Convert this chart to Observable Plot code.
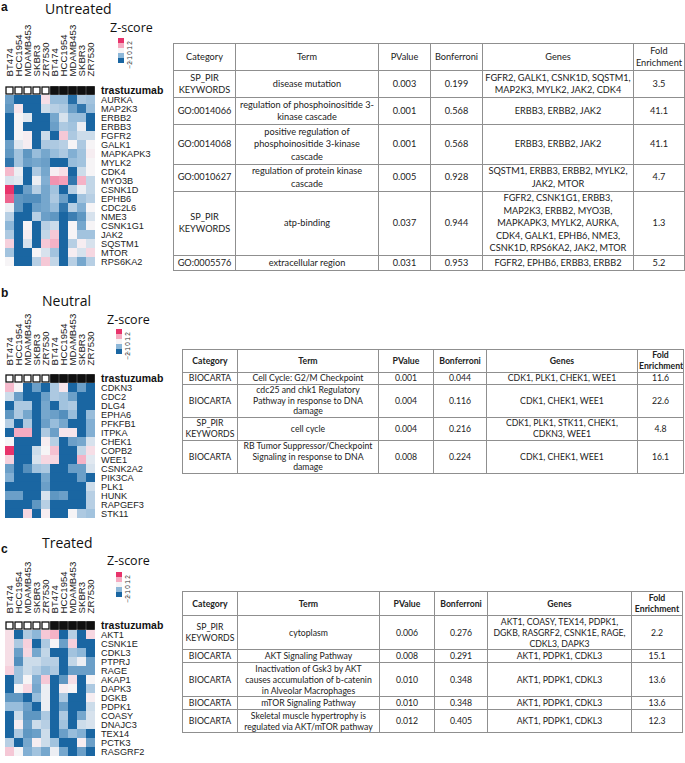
<!DOCTYPE html>
<html><head><meta charset="utf-8">
<script src="https://cdn.jsdelivr.net/npm/d3@7"></script>
<script src="https://cdn.jsdelivr.net/npm/@observablehq/plot@0.6"></script>
<style>
html,body{margin:0;padding:0;background:#fff;}
body{width:685px;height:763px;position:relative;overflow:hidden;font-family:"Liberation Sans",Arial,sans-serif;color:#111;}
.abs{position:absolute;white-space:nowrap;line-height:1;}
.plabel{font-family:"Liberation Sans",Arial,sans-serif;font-weight:bold;font-size:12px;}
.ptitle{font-family:"Open Sans",sans-serif;font-size:14px;color:#111;}
.zs{font-family:"Open Sans",sans-serif;font-size:12.5px;color:#111;}
table.enr{position:absolute;border-collapse:collapse;table-layout:fixed;font-family:Lato,"Open Sans",sans-serif;color:#222;}
table.enr td{border:1px solid #8f8f8f;text-align:center;vertical-align:middle;padding:0 1px;white-space:nowrap;overflow:hidden;}
svg{position:absolute;}
</style></head><body>
<script>
// ---------- heatmap data ----------
const samples = ["BT474","HCC1954","MDAMB453","SKBR3","ZR7530","BT474","HCC1954","MDAMB453","SKBR3","ZR7530"];
const trastuzumab = [0,0,0,0,0,1,1,1,1,1];

const genesA = ["AURKA","MAP2K3","ERBB2","ERBB3","FGFR2","GALK1","MAPKAPK3","MYLK2","CDK4","MYO3B","CSNK1D","EPHB6","CDC2L6","NME3","CSNK1G1","JAK2","SQSTM1","MTOR","RPS6KA2"];
const zA = [
  [-1.3,-2,-2,-2,0.3,-0.9,-0.9,-1.9,-0.7,-0.8],
  [-1.4,0.2,-2,-2,-0.4,-0.6,-0.7,-1.3,-1.8,-0.9],
  [-2,0,-0.2,-2,-2,-1.2,-0.3,-0.9,-0.9,-2],
  [-2,0,-2,-2,-2,-1.3,-0.7,-0.8,-0.1,-2],
  [-2,0,0.1,-2,-0.4,-2,0.6,-0.7,-0.4,-0.4],
  [-1.3,-0.2,0.1,-2,-0.7,-0.7,-0.6,0,-0.7,0],
  [-1.4,-0.8,-1.4,-0.9,-1.2,-0.9,-0.7,-1.1,-0.8,0.1],
  [-1.8,-0.8,-1.3,-1.2,-1.3,-2,-2,-0.9,-0.8,0],
  [0.8,-0.1,-2,-0.7,-1.2,0.1,0.3,-2,-0.4,0],
  [-0.3,-0.2,-2,-0.1,-1.1,1.2,1.1,-1.8,0.9,-0.5],
  [2,-2,-1.3,-0.6,-1.2,-0.8,-2,-0.6,-0.1,-0.5],
  [1.6,-1.4,-1.5,-1.5,-1.2,-0.7,-1.3,-2,-0.8,-0.6],
  [-0.1,-1.4,-2,-1.3,-1.2,-0.9,-1.8,-0.6,-1.1,0],
  [-0.6,-2,-2,-0.6,-1.3,-1.4,-2,-1.7,-1.4,-0.3],
  [-1.0,-2,0,-2,-0.6,-0.4,-2,0,-1.2,0],
  [-0.7,-2,0.1,-2,-0.5,0.6,-2,0,-0.8,-0.8],
  [0.5,-2,-0.3,-2,0.6,0.9,-2,-0.6,0.1,-0.3],
  [-0.8,-2,-2,0,-0.3,-0.8,-2,0.1,-0.3,0.4],
  [0,-2,-2,-0.6,0.6,-0.5,-2,-0.6,-1.2,-0.6]
];

const genesB = ["CDKN3","CDC2","DLG4","EPHA6","PFKFB1","ITPKA","CHEK1","COPB2","WEE1","CSNK2A2","PIK3CA","PLK1","HUNK","RAPGEF3","STK11"];
const zB = [
  [0.8,0,-2,-1.3,-2,-0.7,0.2,-2,-1.3,-2],
  [-0.4,-1.3,-2,-2,-1.3,-0.7,-0.8,-1.3,-2,-2],
  [-2,-0.7,-0.7,-2,-1.2,-2,-0.8,-0.7,-2,-2],
  [-1.4,-0.7,-1.2,-2,-1.2,-1.3,-1.5,-0.9,-2,-0.9],
  [-0.6,-2,-0.7,-2,-1.3,-0.9,-1.2,-2,-2,-1.1],
  [-2,1.0,1.0,-2,-0.7,-1.3,0.2,0.2,-2,-1.1],
  [0,-2,-2,-2,0.1,-0.6,-2,-1.3,-1.2,-0.3],
  [2,-2,-2,-0.4,0,0.7,-2,-2,-0.5,0.3],
  [0.5,-2,-2,-0.3,0.4,0.4,-2,-2,0.9,-0.2],
  [-1.3,-2,-1.5,-0.8,-0.7,-2,-2,-1.3,-1.3,-0.3],
  [-1.1,-2,-2,-2,-1.2,-2,-2,-2,-1.3,-2],
  [-2,-2,-2,-2,-1.3,-2,-2,-2,-2,-0.4],
  [-1.3,-1.3,-2,-2,-0.3,-1.4,-1.3,-2,-2,-0.6],
  [-2,-2,-2,-1.4,-0.6,-2,-2,-2,-2,-0.6],
  [-2,-2,0.4,-2,0.1,-2,-2,0,-0.7,-0.8]
];

const genesC = ["AKT1","CSNK1E","CDKL3","PTPRJ","RAGE","AKAP1","DAPK3","DGKB","PDPK1","COASY","DNAJC3","TEX14","PCTK3","RASGRF2"];
const zC = [
  [0.3,-2,-0.7,-1.0,0.6,0.9,-2,-0.6,-2,0.4],
  [0.3,-0.7,0.5,-2,-0.7,0,-1.3,0.5,-2,-2],
  [0.3,-1.3,0.4,-1.2,-0.5,-2,-2,-0.8,-1.0,-2],
  [0.3,-1.5,-0.4,-0.4,-0.6,-0.6,-2,-0.5,-0.1,-1.3],
  [0.5,-0.8,-0.4,-0.6,-0.9,-0.7,-2,-1.3,-1.3,-1.3],
  [-2,-0.8,0,-1.1,0.6,-2,-1.4,0.3,-2,0],
  [-2,0,0.4,-1.2,-0.1,-2,0.1,0,-2,-0.7],
  [-1.4,-1.4,-2,-0.9,-0.1,-2,-0.7,-2,-2,0.1],
  [-0.9,-0.9,-1.3,-2,-0.1,-2,-1.3,-2,-2,-0.4],
  [-2,-0.4,-1.4,-1.4,-0.7,-2,-0.7,-2,-1.2,-0.3],
  [-2,0.1,-1.3,-0.4,-0.6,-2,-0.8,-2,-0.4,-0.3],
  [-2,-0.7,-1.4,-1.3,-0.4,-2,-1.3,-0.9,-1.1,-2],
  [-0.6,-2,-1.2,0.1,-0.4,-0.8,-2,-2,0.1,-1.3],
  [0.6,0,-1.1,-0.8,-1.2,-0.1,-1.2,-2,-1.3,-2]
];

const legendValues = [2,1,0,-1,-2];

// ---------- table data ----------
const tableHeader = ["Category","Term","PValue","Bonferroni","Genes","Fold\nEnrichment"];

const catA = ["SP_PIR\nKEYWORDS","GO:0014066","GO:0014068","GO:0010627","SP_PIR\nKEYWORDS","GO:0005576"];
const termA = ["disease mutation","regulation of phosphoinositide 3-\nkinase cascade","positive regulation of\nphosphoinositide 3-kinase\ncascade","regulation of protein kinase\ncascade","atp-binding","extracellular region"];
const pA = ["0.003","0.001","0.001","0.005","0.037","0.031"];
const bonfA = ["0.199","0.568","0.568","0.928","0.944","0.953"];
const geneListA = ["FGFR2, GALK1, CSNK1D, SQSTM1,\nMAP2K3, MYLK2, JAK2, CDK4","ERBB3, ERBB2, JAK2","ERBB3, ERBB2, JAK2","SQSTM1, ERBB3, ERBB2, MYLK2,\nJAK2, MTOR","FGFR2, CSNK1G1, ERBB3,\nMAP2K3, ERBB2, MYO3B,\nMAPKAPK3, MYLK2, AURKA,\nCDK4, GALK1, EPHB6, NME3,\nCSNK1D, RPS6KA2, JAK2, MTOR","FGFR2, EPHB6, ERBB3, ERBB2"];
const foldA = ["3.5","41.1","41.1","4.7","1.3","5.2"];

const catB = ["BIOCARTA","BIOCARTA","SP_PIR\nKEYWORDS","BIOCARTA"];
const termB = ["Cell Cycle: G2/M Checkpoint","cdc25 and chk1 Regulatory\nPathway in response to DNA\ndamage","cell cycle","RB Tumor Suppressor/Checkpoint\nSignaling in response to DNA\ndamage"];
const pB = ["0.001","0.004","0.004","0.008"];
const bonfB = ["0.044","0.116","0.216","0.224"];
const geneListB = ["CDK1, PLK1, CHEK1, WEE1","CDK1, CHEK1, WEE1","CDK1, PLK1, STK11, CHEK1,\nCDKN3, WEE1","CDK1, CHEK1, WEE1"];
const foldB = ["11.6","22.6","4.8","16.1"];

const catC = ["SP_PIR\nKEYWORDS","BIOCARTA","BIOCARTA","BIOCARTA","BIOCARTA"];
const termC = ["cytoplasm","AKT Signaling Pathway","Inactivation of Gsk3 by AKT\ncauses accumulation of b-catenin\nin Alveolar Macrophages","mTOR Signaling Pathway","Skeletal muscle hypertrophy is\nregulated via AKT/mTOR pathway"];
const pC = ["0.006","0.008","0.010","0.010","0.012"];
const bonfC = ["0.276","0.291","0.348","0.348","0.405"];
const geneListC = ["AKT1, COASY, TEX14, PDPK1,\nDGKB, RASGRF2, CSNK1E, RAGE,\nCDKL3, DAPK3","AKT1, PDPK1, CDKL3","AKT1, PDPK1, CDKL3","AKT1, PDPK1, CDKL3","AKT1, PDPK1, CDKL3"];
const foldC = ["2.2","15.1","13.6","13.6","12.3"];

// ---------- styling ----------
const zDomain = [-2,-1,0,1,2];
const zColors = ["#1a66a2","#8db7d8","#f6f4f6","#f5abc1","#e8336b"];
const colorScale = {type:"linear", domain:zDomain, range:zColors, clamp:true};

function addDiv(cls, text, left, top) {
  const d = document.createElement("div");
  d.className = "abs " + cls;
  d.textContent = text;
  d.style.left = left + "px"; d.style.top = top + "px";
  document.body.appendChild(d);
}

function heatmap(genes, z, rowH, top) {
  const cells = [];
  genes.forEach((g, i) => z[i].forEach((v, j) => cells.push({gene: g, col: j, z: v})));
  const boxes = trastuzumab.map((t, j) => ({col: j, t}));
  const frameTop = 77.4;
  const height = frameTop + rowH * (genes.length + 1) + 1;
  const svg = Plot.plot({
    width: 170, height,
    marginLeft: 0.5, marginRight: 71.5, marginTop: frameTop, marginBottom: 1,
    x: {type: "band", domain: d3.range(10), padding: 0, axis: null},
    y: {type: "band", domain: ["trastuzumab", ...genes], padding: 0, axis: null},
    color: colorScale,
    style: {fontFamily: '"Liberation Sans", Arial, sans-serif', background: "transparent", overflow: "visible", color: "#222"},
    marks: [
      Plot.axisX({anchor: "top", tickRotate: -90, tickSize: 0, tickPadding: 1.5, tickFormat: i => samples[i], fontSize: 9.6, label: null}),
      Plot.cell(cells, {x: "col", y: "gene", fill: "z"}),
      Plot.cell(boxes.filter(d => !d.t), {x: "col", y: () => "trastuzumab", fill: "white", stroke: "#111", strokeWidth: 1.3, inset: 1}),
      Plot.cell(boxes.filter(d => d.t), {x: "col", y: () => "trastuzumab", fill: "#111", stroke: "#111", strokeWidth: 1.3, inset: 0.8}),
      Plot.text(genes, {y: d => d, text: d => d, frameAnchor: "right", textAnchor: "start", dx: 2, fontSize: 9.2, fill: "#222"}),
      Plot.text(["trastuzumab"], {y: d => d, text: d => d, frameAnchor: "right", textAnchor: "start", dx: 2, fontSize: 10.5, fontWeight: "bold", fill: "#111"})
    ]
  });
  svg.style.left = "0px"; svg.style.top = top + "px";
  document.body.appendChild(svg);
}

function legend(left, top) {
  const svg = Plot.plot({
    width: 26, height: 27, marginLeft: 0, marginRight: 20, marginTop: 0, marginBottom: 0,
    x: {axis: null},
    y: {type: "band", domain: legendValues, padding: 0, axis: null},
    color: colorScale,
    style: {fontFamily: '"Liberation Sans", Arial, sans-serif', background: "transparent", overflow: "visible"},
    marks: [
      Plot.cell(legendValues, {y: d => d, fill: d => d}),
      Plot.text(legendValues, {y: d => d, text: d => d < 0 ? "\u2212" + Math.abs(d) : String(d), frameAnchor: "right", dx: 5, rotate: -90, fontSize: 6.5, fill: "#333"})
    ]
  });
  svg.style.left = left + "px"; svg.style.top = top + "px";
  document.body.appendChild(svg);
}

function makeTable(left, top, widths, lh, pad, fs, bold, cols) {
  const t = document.createElement("table");
  t.className = "enr";
  Object.assign(t.style, {left: left + "px", top: top + "px", width: d3.sum(widths) + "px", fontSize: fs + "px", lineHeight: lh + "px"});
  const cg = document.createElement("colgroup");
  widths.forEach(w => { const c = document.createElement("col"); c.style.width = w + "px"; cg.appendChild(c); });
  t.appendChild(cg);
  const addRow = (vals, head) => {
    const tr = document.createElement("tr");
    const lines = d3.max(vals, v => v.split("\n").length);
    tr.style.height = (lines * lh + pad) + "px";
    vals.forEach(v => {
      const td = document.createElement("td");
      v.split("\n").forEach((s, k) => {
        if (k) td.appendChild(document.createElement("br"));
        td.appendChild(document.createTextNode(s));
      });
      if (head && bold) td.style.fontWeight = "bold";
      tr.appendChild(td);
    });
    t.appendChild(tr);
  };
  addRow(tableHeader, true);
  for (let i = 0; i < cols[0].length; i++) addRow(cols.map(c => c[i]), false);
  document.body.appendChild(t);
}

// ---------- panel a ----------
addDiv("plabel", "a", 1, 1);
addDiv("ptitle", "Untreated", 45, 2);
addDiv("zs", "Z-score", 110, 22);
heatmap(genesA, zA, 9.9, 0);
legend(118, 37);
makeTable(173, 43, [62,143,52,52,151,51], 12.5, 2, 9.2, false, [catA, termA, pA, bonfA, geneListA, foldA]);

// ---------- panel b ----------
addDiv("plabel", "b", 1, 287);
addDiv("ptitle", "Neutral", 42, 294);
addDiv("zs", "Z-score", 107, 314);
heatmap(genesB, zB, 9.9, 288.6);
legend(116, 328);
makeTable(182, 349, [55,141,55,53,151,46], 10.6, 1.5, 8.7, true, [catB, termB, pB, bonfB, geneListB, foldB]);

// ---------- panel c ----------
addDiv("plabel", "c", 1, 543);
addDiv("ptitle", "Treated", 42, 536);
addDiv("zs", "Z-score", 107, 555);
heatmap(genesC, zC, 9.9, 536.6);
legend(116, 571);
makeTable(182, 591, [55,142,55,53,144,51], 11, 1.5, 8.7, true, [catC, termC, pC, bonfC, geneListC, foldC]);
</script>
</body></html>
